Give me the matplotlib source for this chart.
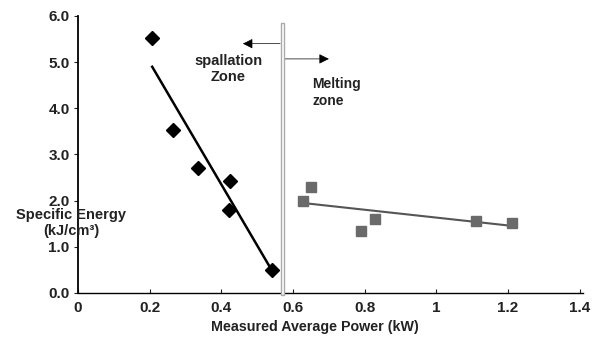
import matplotlib.pyplot as plt
import numpy as np
from matplotlib.patches import Rectangle

plt.rcParams['font.family'] = ['Liberation Sans', 'DejaVu Sans']
plt.rcParams['font.weight'] = 'bold'

# spallation zone (diamonds)
spall_power = [0.207, 0.265, 0.335, 0.425, 0.42, 0.54]
spall_energy = [5.52, 3.53, 2.70, 2.42, 1.80, 0.50]
spall_fit_x = [0.207, 0.54]
spall_fit_y = [4.90, 0.50]

# melting zone (squares)
melt_power = [0.627, 0.65, 0.79, 0.83, 1.11, 1.21]
melt_energy = [2.00, 2.29, 1.34, 1.60, 1.56, 1.52]
melt_fit_x = [0.627, 1.215]
melt_fit_y = [1.95, 1.45]

boundary = 0.57

fig = plt.figure(figsize=(6.06, 3.42), dpi=100)
ax = fig.add_axes([0.1287, 0.1433, 0.834, 0.81])

ax.plot(spall_fit_x, spall_fit_y, color="black", lw=1.8, zorder=2)
ax.plot(spall_power, spall_energy, "D", color="black", ms=7, zorder=3)
ax.plot(melt_fit_x, melt_fit_y, color="#555555", lw=1.5, zorder=2)
ax.plot(melt_power, melt_energy, "s", color="#6a6a6a", ms=7.5, zorder=3)

# zone separator
ax.add_patch(Rectangle((boundary - 0.004, -0.05), 0.008, 5.9, facecolor="white",
                       edgecolor="#aaaaaa", lw=1, clip_on=False, zorder=4))
ax.annotate("", xy=(0.46, 5.4), xytext=(boundary - 0.006, 5.4),
            arrowprops=dict(arrowstyle="-|>", color="black", lw=0.5, mutation_scale=15,
                            shrinkA=0, shrinkB=0))
ax.annotate("", xy=(0.70, 5.07), xytext=(boundary + 0.006, 5.07),
            arrowprops=dict(arrowstyle="-|>", color="black", lw=0.5, mutation_scale=15,
                            shrinkA=0, shrinkB=0))
ax.text(0.42, 4.85, "spallation\nZone", ha="center", va="center", fontsize=10.5,
        linespacing=1.15, color="#222222")
ax.text(0.653, 4.35, "Melting\nzone", ha="left", va="center", fontsize=10,
        linespacing=1.25, color="#222222")

ax.set_xlim(0, 1.41)
ax.set_ylim(0, 6.0)
ax.set_xticks([0, 0.2, 0.4, 0.6, 0.8, 1.0, 1.2, 1.4])
ax.set_xticklabels(["0", "0.2", "0.4", "0.6", "0.8", "1", "1.2", "1.4"])
ax.set_yticks(np.arange(0, 7, 1))
ax.set_yticklabels(["0.0", "1.0", "2.0", "3.0", "4.0", "5.0", "6.0"])
ax.tick_params(axis="x", direction="in", length=3, labelsize=11, pad=6, colors="#222222")
ax.tick_params(axis="y", direction="out", length=3, labelsize=11, pad=3, colors="#222222")
for s in ["top", "right"]:
    ax.spines[s].set_visible(False)
ax.spines["left"].set_linewidth(1.3)
ax.spines["bottom"].set_linewidth(1.0)

fig.text(0.117, 0.372, "Specific Energy", ha="center", va="center",
         fontsize=10.5, color="#222222")
fig.text(0.117, 0.326, "(kJ/cm³)", ha="center", va="center",
         fontsize=10.5, color="#222222")
fig.text(0.52, 0.045, "Measured Average Power (kW)", ha="center", va="center",
         fontsize=10.3, color="#222222")

fig.savefig("out.png", dpi=100)
